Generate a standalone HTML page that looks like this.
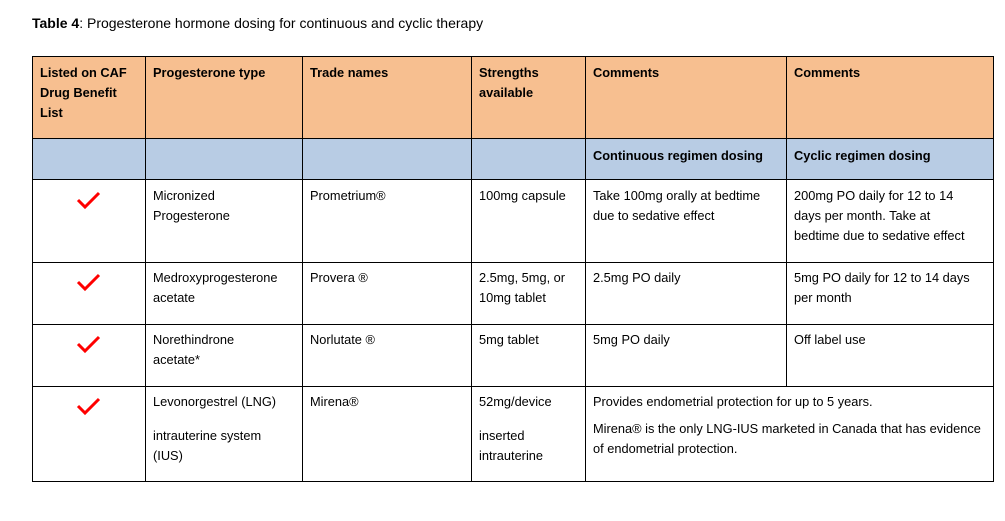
<!DOCTYPE html>
<html><head><meta charset="utf-8"><style>
body{margin:0;width:1005px;height:521px;background:#fff;font-family:"Liberation Sans",sans-serif;font-size:12.8px;color:#000;position:relative;overflow:hidden}
.t{position:absolute;line-height:20px;white-space:nowrap}
.b{font-weight:bold}
.bg{position:absolute}
.h{position:absolute;height:1px;background:#000}
.v{position:absolute;width:1px;background:#000}
svg.ck{position:absolute}
</style></head><body>
<div class="t" style="left:32px;top:13px;font-size:14px"><b>Table 4</b>: Progesterone hormone dosing for continuous and cyclic therapy</div>
<div class="bg" style="left:32px;top:56px;width:961px;height:82px;background:#F7BF90"></div>
<div class="bg" style="left:32px;top:138px;width:961px;height:42px;background:#B8CCE4"></div>
<div class="h" style="left:32px;top:56px;width:962px"></div>
<div class="h" style="left:32px;top:138px;width:962px"></div>
<div class="h" style="left:32px;top:179px;width:962px"></div>
<div class="h" style="left:32px;top:262px;width:962px"></div>
<div class="h" style="left:32px;top:324px;width:962px"></div>
<div class="h" style="left:32px;top:386px;width:962px"></div>
<div class="h" style="left:32px;top:481px;width:962px"></div>
<div class="v" style="left:32px;top:56px;height:426px"></div>
<div class="v" style="left:145px;top:56px;height:426px"></div>
<div class="v" style="left:302px;top:56px;height:426px"></div>
<div class="v" style="left:471px;top:56px;height:426px"></div>
<div class="v" style="left:585px;top:56px;height:426px"></div>
<div class="v" style="left:786px;top:56px;height:331px"></div>
<div class="v" style="left:993px;top:56px;height:426px"></div>

<div class="t b" style="left:40px;top:63px">Listed on CAF<br>Drug Benefit<br>List</div>
<div class="t b" style="left:153px;top:63px">Progesterone type</div>
<div class="t b" style="left:310px;top:63px">Trade names</div>
<div class="t b" style="left:479px;top:63px">Strengths<br>available</div>
<div class="t b" style="left:593px;top:63px">Comments</div>
<div class="t b" style="left:794px;top:63px">Comments</div>
<div class="t b" style="left:593px;top:146px">Continuous regimen dosing</div>
<div class="t b" style="left:794px;top:146px">Cyclic regimen dosing</div>

<div class="t" style="left:153px;top:186px">Micronized<br>Progesterone</div>
<div class="t" style="left:310px;top:186px">Prometrium®</div>
<div class="t" style="left:479px;top:186px">100mg capsule</div>
<div class="t" style="left:593px;top:186px">Take 100mg orally at bedtime<br>due to sedative effect</div>
<div class="t" style="left:794px;top:186px">200mg PO daily for 12 to 14<br>days per month. Take at<br>bedtime due to sedative effect</div>

<div class="t" style="left:153px;top:268px">Medroxyprogesterone<br>acetate</div>
<div class="t" style="left:310px;top:268px">Provera ®</div>
<div class="t" style="left:479px;top:268px">2.5mg, 5mg, or<br>10mg tablet</div>
<div class="t" style="left:593px;top:268px">2.5mg PO daily</div>
<div class="t" style="left:794px;top:268px">5mg PO daily for 12 to 14 days<br>per month</div>

<div class="t" style="left:153px;top:330px">Norethindrone<br>acetate*</div>
<div class="t" style="left:310px;top:330px">Norlutate ®</div>
<div class="t" style="left:479px;top:330px">5mg tablet</div>
<div class="t" style="left:593px;top:330px">5mg PO daily</div>
<div class="t" style="left:794px;top:330px">Off label use</div>

<div class="t" style="left:153px;top:392px">Levonorgestrel (LNG)</div>
<div class="t" style="left:153px;top:426px">intrauterine system<br>(IUS)</div>
<div class="t" style="left:310px;top:392px">Mirena®</div>
<div class="t" style="left:479px;top:392px">52mg/device</div>
<div class="t" style="left:479px;top:426px">inserted<br>intrauterine</div>
<div class="t" style="left:593px;top:392px">Provides endometrial protection for up to 5 years.</div>
<div class="t" style="left:593px;top:419px">Mirena® is the only LNG-IUS marketed in Canada that has evidence<br>of endometrial protection.</div>

<svg class="ck" style="left:76px;top:190px" width="26" height="22"><path d="M2 10 L9 17 L23 3" stroke="#f00" stroke-width="3" fill="none"/></svg>
<svg class="ck" style="left:76px;top:272px" width="26" height="22"><path d="M2 10 L9 17 L23 3" stroke="#f00" stroke-width="3" fill="none"/></svg>
<svg class="ck" style="left:76px;top:334px" width="26" height="22"><path d="M2 10 L9 17 L23 3" stroke="#f00" stroke-width="3" fill="none"/></svg>
<svg class="ck" style="left:76px;top:396px" width="26" height="22"><path d="M2 10 L9 17 L23 3" stroke="#f00" stroke-width="3" fill="none"/></svg>
</body></html>
